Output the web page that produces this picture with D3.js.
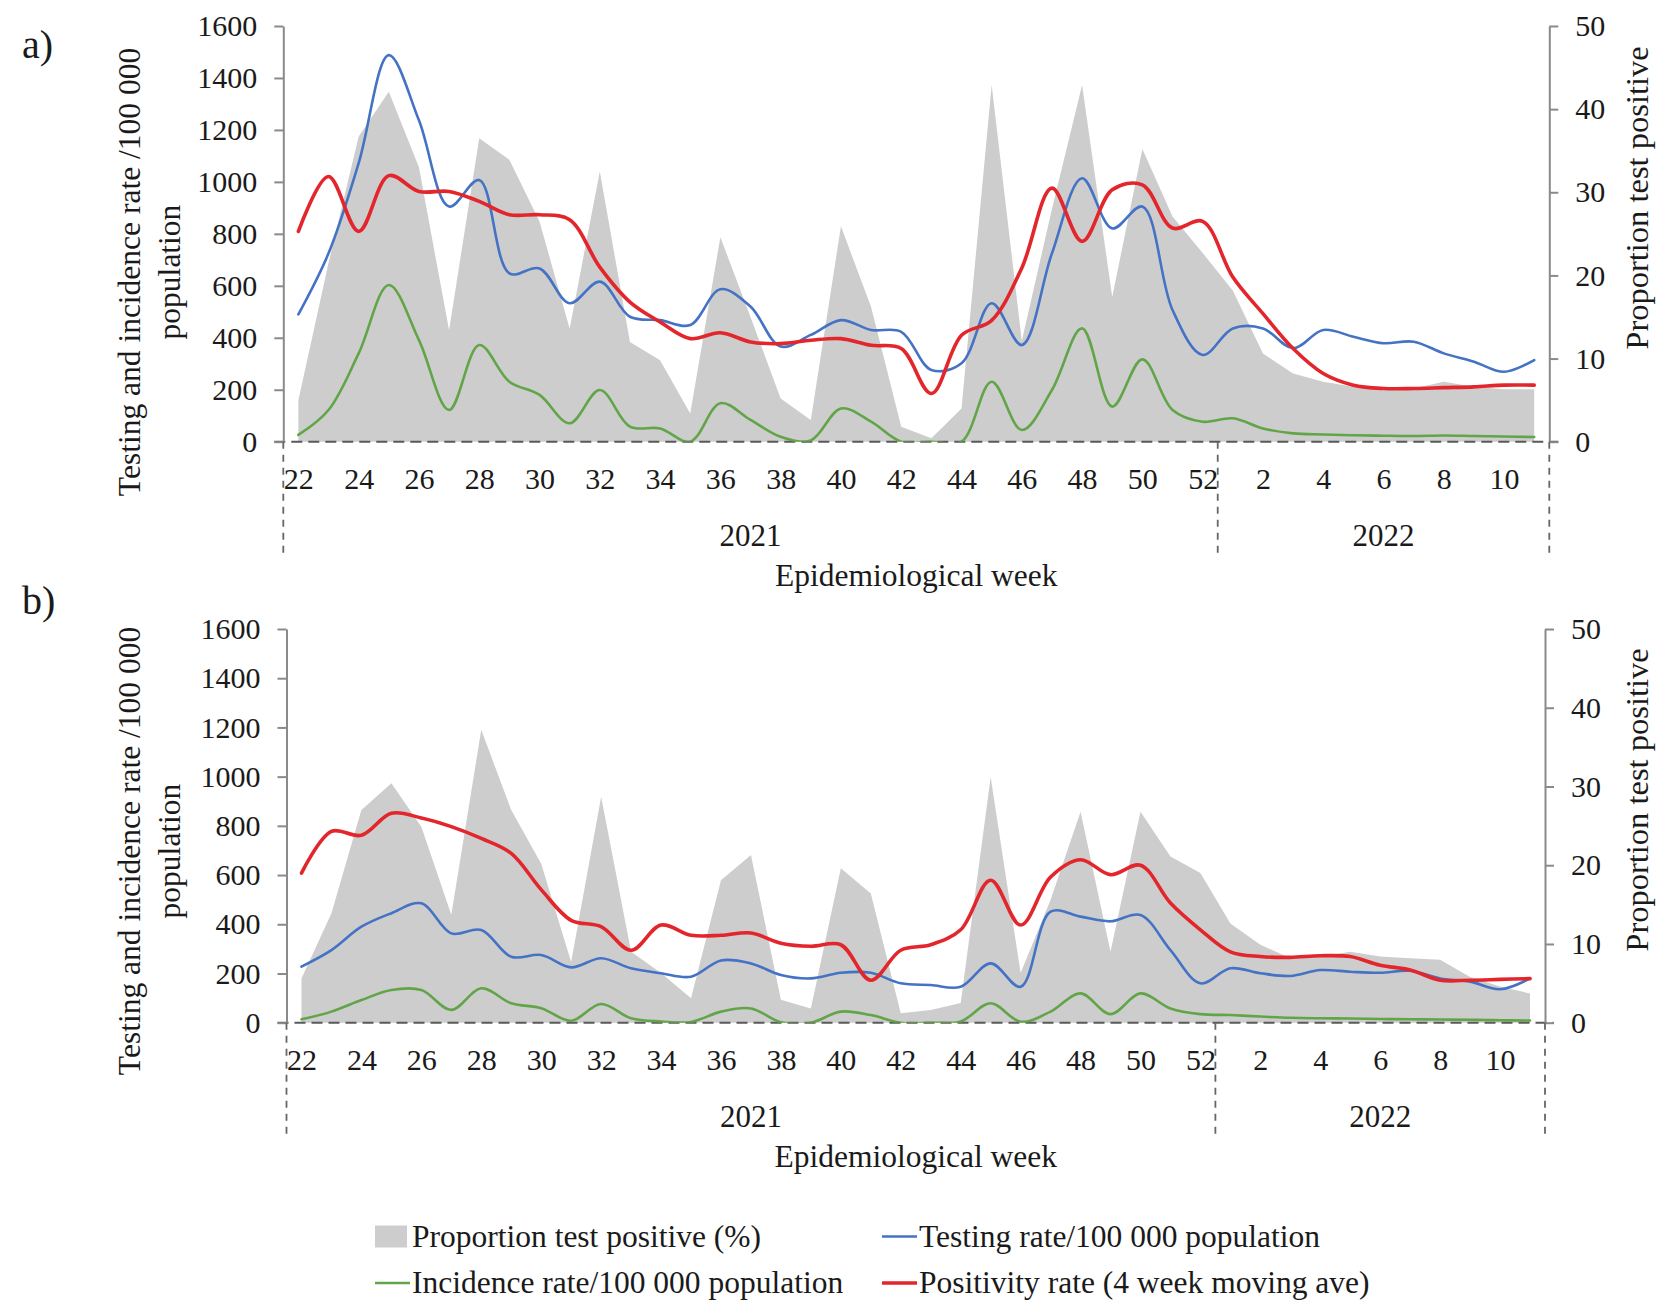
<!DOCTYPE html>
<html><head><meta charset="utf-8">
<script src="https://cdn.jsdelivr.net/npm/d3@7"></script>
<style>
body{margin:0;background:#fff}
svg{display:block}
text{font-family:"Liberation Serif","Times New Roman",serif;fill:#1a1a1a}
</style>
</head><body>
<svg id="chart" width="1657" height="1303"></svg>
<script>
// ---------- DATA ----------
const weeks = [22,23,24,25,26,27,28,29,30,31,32,33,34,35,36,37,38,39,40,41,42,43,44,45,46,47,48,49,50,51,52,1,2,3,4,5,6,7,8,9,10,11];
const years = ["2021","2022"];
const leftTicks = [0,200,400,600,800,1000,1200,1400,1600];
const rightTicks = [0,10,20,30,40,50];
const tickWeekIdx = weeks.map((w,i)=>i).filter(i=>i%2===0);

// Panel a
const propA = [5.0,21.5,36.7,42.1,33.0,13.4,36.5,33.9,26.5,13.6,32.5,12.0,9.8,3.4,24.6,15.0,5.2,2.6,25.9,16.2,1.8,0.4,4.0,42.9,12.1,28.0,42.9,17.4,35.2,27.1,22.7,18.2,10.6,8.2,7.2,6.6,6.2,6.4,7.2,6.6,6.3,6.3];
const testA = [490,725,1072,1488,1237,905,1007,648,667,533,616,481,468,449,587,520,366,411,468,430,423,276,302,533,372,725,1014,821,905,507,334,436,436,360,430,404,379,385,340,308,269,314];
const incA  = [26,122,340,603,391,122,372,231,180,71,199,58,51,0,148,84,19,5,128,77,0,0,0,231,45,199,436,135,317,122,77,90,51,32,28,25,23,22,24,22,20,18];
const posA  = [25.3,31.9,25.3,32.0,30.1,30.1,28.9,27.3,27.3,26.7,21.0,16.8,14.4,12.4,13.1,12.0,11.8,12.2,12.4,11.6,11.2,5.8,12.8,14.6,20.9,30.5,24.1,30.3,30.9,25.7,26.5,19.8,15.4,11.2,8.2,6.8,6.4,6.4,6.5,6.6,6.8,6.8];

// Panel b
const propB = [5.6,13.9,27.0,30.4,24.9,13.7,37.2,27.0,20.2,7.7,28.7,9.0,6.3,3.1,18.1,21.3,2.9,1.8,19.6,16.4,1.2,1.6,2.5,31.2,6.3,15.6,26.8,9.0,26.8,21.1,19.0,12.6,9.9,8.2,8.4,9.0,8.4,8.2,8.0,5.8,4.6,3.7];
const testB = [228,295,390,445,485,363,377,268,275,225,262,221,201,187,253,241,194,180,203,203,160,153,146,241,146,451,431,412,438,295,160,221,201,190,214,207,203,211,180,167,136,180];
const incB  = [14,45,92,133,133,52,140,79,59,8,76,18,5,3,45,58,2,0,45,31,0,0,5,79,4,45,119,35,119,58,35,31,25,20,18,17,15,14,13,12,10,9];
const posB  = [19.0,24.3,23.8,26.6,26.0,24.9,23.4,21.5,16.9,13.0,12.2,9.2,12.4,11.1,11.1,11.4,10.1,9.7,9.9,5.4,9.2,9.9,11.8,18.1,12.4,18.5,20.7,18.8,20.0,15.2,11.8,9.0,8.4,8.3,8.5,8.4,7.3,6.7,5.4,5.4,5.5,5.6];

const legendLabels = ["Proportion test positive (%)","Testing rate/100 000 population","Incidence rate/100 000 population","Positivity rate (4 week moving ave)"];
const leftTitle = ["Testing and incidence rate /100 000","population"];
const rightTitle = "Proportion test positive";
const xTitle = "Epidemiological week";

// ---------- STYLE ----------
const C = {grey:"#cdcdcd", blue:"#4472c4", green:"#62a548", red:"#e3262b", axis:"#8a8a8a", dash:"#5a5a5a"};

const svg = d3.select("#chart");

function drawPanel(cfg, d){
  const g = svg.append("g");
  const x = d3.scalePoint().domain(d3.range(weeks.length)).range([cfg.left,cfg.right]).padding(0.5);
  const step = x.step();
  const yL = d3.scaleLinear().domain([0,1600]).range([cfg.zero,cfg.top]);
  const yR = d3.scaleLinear().domain([0,50]).range([cfg.zero,cfg.top]);

  const clipId = "clip"+cfg.name;
  svg.append("clipPath").attr("id",clipId).append("rect")
    .attr("x",cfg.left).attr("y",cfg.top-10).attr("width",cfg.right-cfg.left).attr("height",cfg.zero-cfg.top+10);

  // area
  g.append("path").datum(d.prop)
    .attr("d", d3.area().x((v,i)=>x(i)).y0(yR(0)).y1(v=>yR(v)))
    .attr("fill",C.grey);

  // zero dashed line
  g.append("line").attr("x1",cfg.left-9).attr("x2",cfg.right+9).attr("y1",cfg.zero).attr("y2",cfg.zero)
    .attr("stroke",C.dash).attr("stroke-width",2).attr("stroke-dasharray","11,6");

  const lineL = d3.line().x((v,i)=>x(i)).y(v=>yL(v)).curve(d3.curveCatmullRom.alpha(0.5));
  const lineR = d3.line().x((v,i)=>x(i)).y(v=>yR(v)).curve(d3.curveCatmullRom.alpha(0.5));
  const lg = g.append("g").attr("clip-path",`url(#${clipId})`).attr("fill","none").attr("stroke-linejoin","round").attr("stroke-linecap","round");
  lg.append("path").datum(d.inc).attr("d",lineL).attr("stroke",C.green).attr("stroke-width",2.6);
  lg.append("path").datum(d.test).attr("d",lineL).attr("stroke",C.blue).attr("stroke-width",2.6);
  lg.append("path").datum(d.pos).attr("d",lineR).attr("stroke",C.red).attr("stroke-width",3.6);

  // axes
  const fmt = d3.format("d");
  const ax = g.append("g").attr("transform",`translate(${cfg.left},0)`)
    .call(d3.axisLeft(yL).tickValues(leftTicks).tickFormat(fmt).tickSize(9).tickSizeOuter(0).tickPadding(17));
  const axr = g.append("g").attr("transform",`translate(${cfg.right},0)`)
    .call(d3.axisRight(yR).tickValues(rightTicks).tickFormat(fmt).tickSize(9).tickSizeOuter(0).tickPadding(17));
  [ax,axr].forEach(a=>{
    a.select(".domain").attr("stroke",C.axis).attr("stroke-width",2);
    a.selectAll(".tick line").attr("stroke",C.axis).attr("stroke-width",2);
    a.selectAll(".tick text").attr("font-size",30).attr("font-family","Liberation Serif").attr("fill","#1a1a1a");
  });

  const axb = g.append("g").attr("transform",`translate(0,${cfg.zero})`)
    .call(d3.axisBottom(x).tickValues(tickWeekIdx).tickFormat(i=>weeks[i]).tickSize(0).tickPadding(26));
  axb.select(".domain").remove();
  axb.selectAll(".tick text").attr("font-size",30).attr("font-family","Liberation Serif").attr("fill","#1a1a1a");

  // year separators
  const sepIdx = weeks.findIndex((w,i)=>i>0 && w<weeks[i-1]);
  const sepX = x(sepIdx) - step/2;
  [cfg.left, sepX, cfg.right].forEach(xx=>{
    g.append("line").attr("x1",xx).attr("x2",xx).attr("y1",cfg.zero).attr("y2",cfg.zero+112)
      .attr("stroke","#666").attr("stroke-width",1.8).attr("stroke-dasharray","7,6");
  });
  const yrX = [(cfg.left+sepX)/2, (sepX+cfg.right)/2];
  years.forEach((yr,i)=>{
    g.append("text").attr("x",yrX[i]).attr("y",cfg.zero+104).attr("text-anchor","middle").attr("font-size",31).text(yr);
  });
  g.append("text").attr("x",(cfg.left+cfg.right)/2).attr("y",cfg.zero+144).attr("text-anchor","middle").attr("font-size",31.5).text(xTitle);

  // titles
  g.append("text").attr("transform",`translate(140,${cfg.ltitleY}) rotate(-90)`).attr("text-anchor","middle").attr("font-size",31.5).text(leftTitle[0]);
  g.append("text").attr("transform",`translate(180,${cfg.ltitleY}) rotate(-90)`).attr("text-anchor","middle").attr("font-size",31.5).text(leftTitle[1]);
  g.append("text").attr("transform",`translate(1648,${cfg.rtitleY}) rotate(-90)`).attr("text-anchor","middle").attr("font-size",32.5).text(rightTitle);

  // panel label
  g.append("text").attr("x",22).attr("y",cfg.labelY).attr("font-size",40).text(cfg.name+")");
}

drawPanel({name:"a", left:283.3, right:1549.3, top:26, zero:441.7, ltitleY:272, rtitleY:198, labelY:58},
  {prop:propA, test:testA, inc:incA, pos:posA});
drawPanel({name:"b", left:286.5, right:1545, top:629, zero:1022.7, ltitleY:851, rtitleY:800, labelY:614},
  {prop:propB, test:testB, inc:incB, pos:posB});

// legend
const leg = svg.append("g");
const legItems = [
  {label:legendLabels[0], type:"rect", color:C.grey, x:375, y:1236.5},
  {label:legendLabels[1], type:"line", color:C.blue, x:882, y:1236.5},
  {label:legendLabels[2], type:"line", color:C.green, x:375, y:1283},
  {label:legendLabels[3], type:"line", color:C.red, x:882, y:1283}
];
legItems.forEach(it=>{
  if(it.type==="rect"){
    leg.append("rect").attr("x",it.x).attr("y",it.y-11).attr("width",32).attr("height",22).attr("fill",it.color);
  } else {
    leg.append("line").attr("x1",it.x).attr("x2",it.x+35).attr("y1",it.y).attr("y2",it.y)
      .attr("stroke",it.color).attr("stroke-width",it.color===C.red?3.6:2.6);
  }
  leg.append("text").attr("x",it.x+37).attr("y",it.y+10).attr("font-size",31.5).text(it.label);
});
</script>
</body></html>
